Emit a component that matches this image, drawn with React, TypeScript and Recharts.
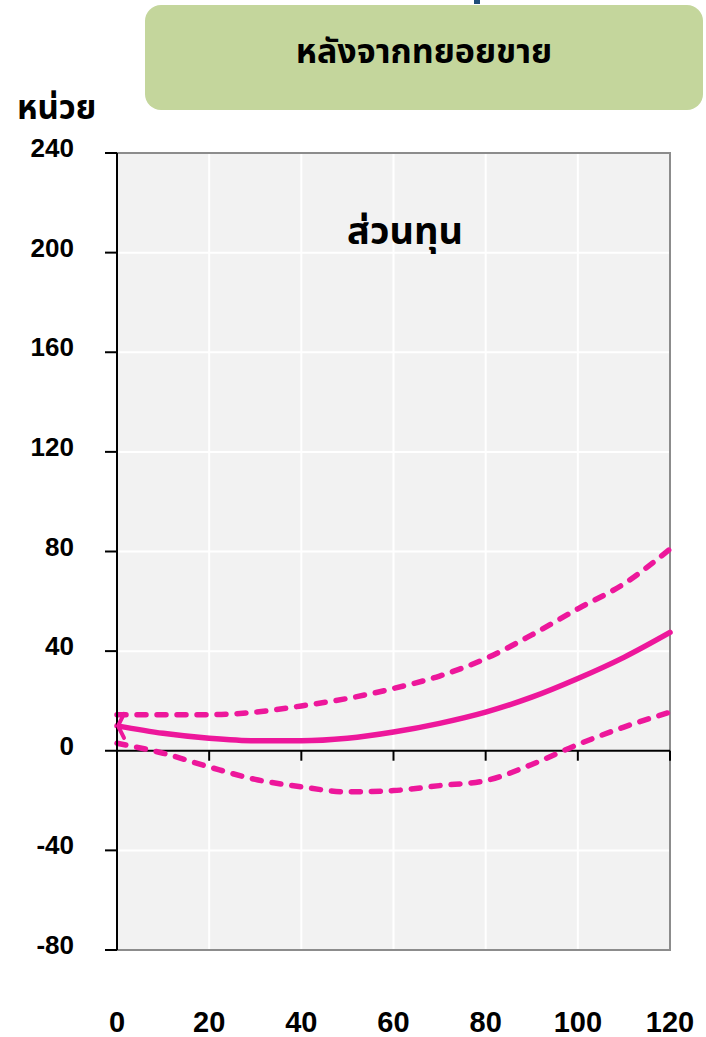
import React from "react";
import {
  LineChart,
  Line,
  XAxis,
  YAxis,
  CartesianGrid,
  ReferenceLine,
  ReferenceArea,
} from "recharts";

// horizon (x) and the three paths: central estimate plus upper / lower band
const X_VALUES = [0, 10, 20, 30, 40, 50, 60, 70, 80, 90, 100, 110, 120];
const CENTER = [10, 7, 5, 4, 4, 5, 7.5, 11, 15.5, 21.5, 29, 37.5, 47.5];
const UPPER = [14.5, 14.5, 14.5, 15.5, 18, 21, 25, 30, 37, 46.5, 57, 67, 81];
const LOWER = [3, -1, -6.5, -11.5, -14.5, -16.5, -16, -14, -12, -5.5, 2.5, 9.5, 15.5];

const X_TICKS = [0, 20, 40, 60, 80, 100, 120];
const Y_TICKS = [-80, -40, 0, 40, 80, 120, 160, 200, 240];

const PINK = "#ED179B";
const THAI_FONT = "Tahoma, 'Noto Sans Thai', 'Noto Sans', sans-serif";
const NUM_FONT = "'Liberation Sans', Arial, sans-serif";
const TICK_DROP = 4; // small tick marks under the zero line, in y units
const Y_LABEL_RIGHT = 74;

const data = X_VALUES.map((x, i) => ({
  x,
  center: CENTER[i],
  upper: UPPER[i],
  lower: LOWER[i],
}));

// open arrowhead on the first point of the central line
function ArrowStart(props: any) {
  const { cx, cy, index } = props;
  if (index !== 0 || cx == null) return <g key={`d-${index}`} />;
  return (
    <path
      key="arrow"
      d={`M${cx + 7},${cy - 12} L${cx + 1},${cy} L${cx + 7},${cy + 12}`}
      fill="none"
      stroke={PINK}
      strokeWidth={4}
      strokeLinecap="round"
      strokeLinejoin="round"
    />
  );
}

function XTick(props: any) {
  const { x, y, payload } = props;
  return (
    <text
      x={x}
      y={y + 80}
      textAnchor="middle"
      fontFamily={NUM_FONT}
      fontWeight="bold"
      fontSize={29}
      fill="#000"
    >
      {payload.value}
    </text>
  );
}

function YTick(props: any) {
  const { y, payload } = props;
  return (
    <text
      x={Y_LABEL_RIGHT}
      y={y + 4}
      textAnchor="end"
      fontFamily={NUM_FONT}
      fontWeight="bold"
      fontSize={26}
      fill="#000"
    >
      {payload.value}
    </text>
  );
}

export default function App() {
  return (
    <div style={{ position: "relative", width: 706, height: 1037, background: "#fff" }}>
      <style>{`body{margin:0}`}</style>

      {/* header box */}
      <div
        style={{
          position: "absolute",
          left: 474,
          top: 0,
          width: 6,
          height: 4,
          background: "#1f4e79",
        }}
      />
      <div
        style={{
          position: "absolute",
          left: 145,
          top: 5,
          width: 558,
          height: 105,
          borderRadius: 16,
          background: "#C4D69C",
          display: "flex",
          alignItems: "center",
          justifyContent: "center",
          paddingBottom: 10,
          boxSizing: "border-box",
          fontFamily: THAI_FONT,
          fontWeight: "bold",
          fontSize: 34,
          color: "#000",
        }}
      >
        หลังจากทยอยขาย
      </div>
      <div
        style={{
          position: "absolute",
          left: 17,
          top: 84,
          fontFamily: THAI_FONT,
          fontWeight: "bold",
          fontSize: 33,
          color: "#000",
        }}
      >
        หน่วย
      </div>

      <div style={{ position: "absolute", left: 0, top: 0 }}>
        <LineChart
          width={706}
          height={1037}
          data={data}
          margin={{ top: 153, right: 36, bottom: 0, left: 0 }}
        >
          <CartesianGrid fill="#F2F2F2" stroke="#FFFFFF" strokeWidth={2} />
          <ReferenceArea
            x1={0}
            x2={120}
            y1={-80}
            y2={240}
            fill="none"
            stroke="#8C8C8C"
            strokeWidth={2}
          />
          <XAxis
            dataKey="x"
            type="number"
            domain={[0, 120]}
            ticks={X_TICKS}
            axisLine={false}
            tickLine={false}
            tickSize={0}
            height={87}
            tick={<XTick />}
          />
          <YAxis
            type="number"
            domain={[-80, 240]}
            ticks={Y_TICKS}
            width={117}
            axisLine={{ stroke: "#000", strokeWidth: 2 }}
            tickLine={{ stroke: "#000", strokeWidth: 2 }}
            tickSize={12}
            tick={<YTick />}
          />
          <ReferenceLine y={0} stroke="#000" strokeWidth={2} />
          {X_TICKS.map((t) => (
            <ReferenceLine
              key={`zt-${t}`}
              segment={[
                { x: t, y: 0 },
                { x: t, y: -TICK_DROP },
              ]}
              stroke="#000"
              strokeWidth={2}
            />
          ))}
          <Line
            type="monotone"
            dataKey="upper"
            stroke={PINK}
            strokeWidth={5.5}
            strokeDasharray="9 11"
            strokeLinecap="round"
            dot={false}
            isAnimationActive={false}
          />
          <Line
            type="monotone"
            dataKey="lower"
            stroke={PINK}
            strokeWidth={5.5}
            strokeDasharray="9 11"
            strokeLinecap="round"
            dot={false}
            isAnimationActive={false}
          />
          <Line
            type="monotone"
            dataKey="center"
            stroke={PINK}
            strokeWidth={5.5}
            strokeLinecap="round"
            dot={<ArrowStart />}
            activeDot={false}
            isAnimationActive={false}
          />
        </LineChart>
      </div>

      <div
        style={{
          position: "absolute",
          left: 300,
          width: 210,
          top: 204,
          textAlign: "center",
          fontFamily: THAI_FONT,
          fontWeight: "bold",
          fontSize: 38,
          color: "#000",
        }}
      >
        ส่วนทุน
      </div>
    </div>
  );
}
